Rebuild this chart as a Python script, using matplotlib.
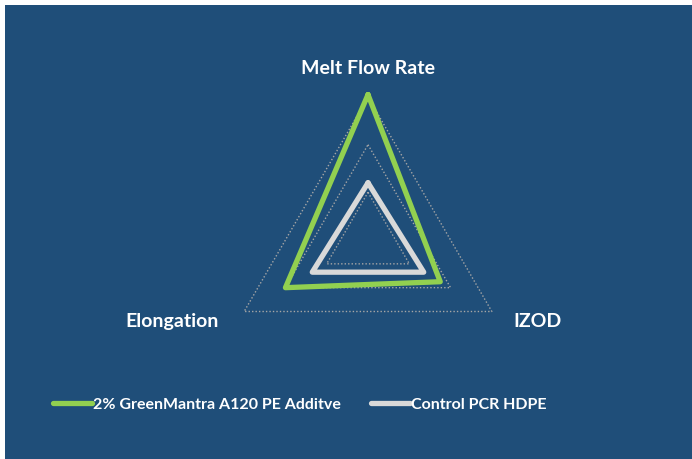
import numpy as np
import matplotlib.pyplot as plt
from matplotlib.patches import Rectangle

# Дані
categories = ['Melt Flow Rate', 'IZOD', 'Elongation']
green_values = [3.05, 1.75, 2.0]
control_values = [1.2, 1.35, 1.35]
grid_levels = [1, 2, 3]
series_names = ['2% GreenMantra A120 PE Additve', 'Control PCR HDPE']

bg = '#1F4E79'
green = '#92D050'
gray = '#D9D9D9'

plt.rcParams['font.family'] = ['Lato', 'DejaVu Sans']

# Кути осей: зверху, праворуч знизу, ліворуч знизу
angles = np.deg2rad([90, -30, 210])

def to_xy(values):
    v = np.array(values + values[:1], dtype=float)
    a = np.concatenate([angles, angles[:1]])
    return v * np.cos(a), v * np.sin(a)

fig = plt.figure(figsize=(6.92, 4.6), dpi=100)
fig.patch.set_facecolor('white')
fig.patches.append(Rectangle((5 / 692, 0), 1, 1 - 6 / 460, transform=fig.transFigure,
                             facecolor=bg, edgecolor='none', zorder=-10))

unit = 143 / 3
W, H = 9 * unit, 7 * unit
ax = fig.add_axes([(368 - 4.5 * unit) / 692, (460 - 241 - 3.5 * unit) / 460, W / 692, H / 460])
ax.set_xlim(-4.5, 4.5)
ax.set_ylim(-3.5, 3.5)
ax.set_facecolor('none')
ax.axis('off')

# Сітка
for lvl in grid_levels:
    gx, gy = to_xy([lvl] * 3)
    ax.plot(gx, gy, color='#A6A6A6', linestyle=(0, (1, 1.5)), linewidth=1.0, zorder=1)

# Ряди
x1, y1 = to_xy(green_values)
l1, = ax.plot(x1, y1, color=green, linewidth=3.8, solid_joinstyle='round',
              solid_capstyle='round', label=series_names[0], zorder=3)
x2, y2 = to_xy(control_values)
l2, = ax.plot(x2, y2, color=gray, linewidth=3.8, solid_joinstyle='round',
              solid_capstyle='round', label=series_names[1], zorder=3)

# Підписи осей
lab_kw = dict(color='white', fontsize=14, fontweight='bold', ha='center', va='center', clip_on=False)
ax.text(0, 173 / unit, categories[0], **lab_kw)
ax.text(169 / unit, -81 / unit, categories[1], **lab_kw)
ax.text(-196 / unit, -81 / unit, categories[2], **lab_kw)

leg = fig.legend(handles=[l1, l2], loc='center', bbox_to_anchor=(300 / 692, 1 - 405 / 460),
                 ncol=2, frameon=False, handlelength=2.4, handletextpad=0.1,
                 columnspacing=1.9, prop={'weight': 'bold', 'size': 11.5})
for t in leg.get_texts():
    t.set_color('white')

fig.savefig('out.png', dpi=100, facecolor=fig.get_facecolor())
